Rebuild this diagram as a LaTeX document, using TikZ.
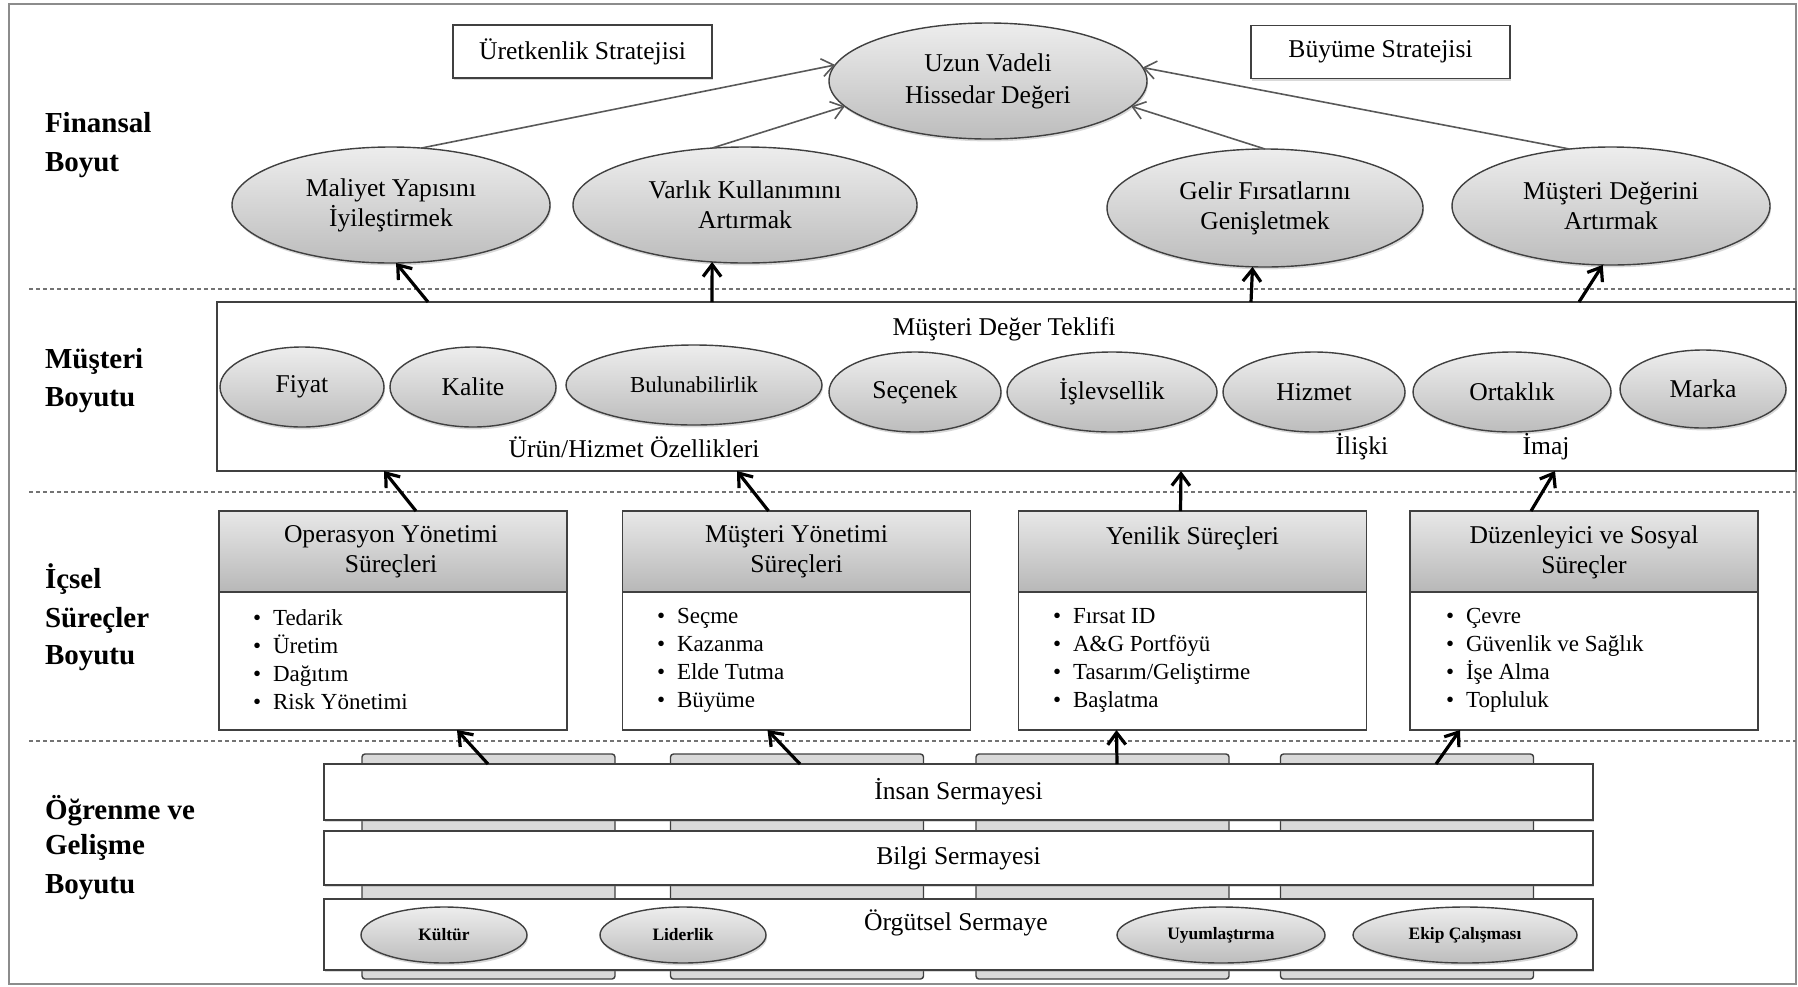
\documentclass[tikz,border=0pt]{standalone}
\usepackage{fontspec}
\setmainfont{Liberation Serif}
\usetikzlibrary{arrows.meta,shapes.geometric,shadows}
\newcommand\kbullet{\textbullet\hspace{6pt}}
\begin{document}
\begin{tikzpicture}[x=0.5pt, y=-0.5pt,
  every node/.style={inner sep=0pt, outer sep=0pt},
  frame/.style={draw=black!45, line width=1pt},
  sepline/.style={draw=black!55, line width=0.6pt, dash pattern=on 2pt off 1.5pt},
  layerlabel/.style={anchor=base west, font=\fontsize{14.5}{18}\selectfont\bfseries},
  plain/.style={font=\fontsize{12.8}{15}\selectfont, align=center},
  shadowed/.style={drop shadow={shadow xshift=0.5pt, shadow yshift=-1.2pt, opacity=0.3}},
  oval/.style={ellipse, draw=black!75, line width=0.7pt, top color=black!7,
    bottom color=black!26, shadowed, font=\fontsize{12.8}{15}\selectfont, align=center},
  smalloval/.style={oval, font=\fontsize{8.7}{10}\selectfont\bfseries,
    minimum height=28pt},
  stratbox/.style={rectangle, draw=black!75, line width=0.7pt, fill=white, shadowed,
    minimum width=129.5pt, minimum height=26.5pt, font=\fontsize{12.8}{15}\selectfont},
  outerbox/.style={rectangle, draw=black!75, line width=0.7pt, fill=white},
  header/.style={rectangle, draw=black!75, line width=0.7pt, top color=black!9,
    bottom color=black!28, minimum width=174pt, minimum height=40.5pt},
  body/.style={rectangle, draw=black!75, line width=0.7pt, fill=white,
    minimum width=174pt, minimum height=69pt},
  listtxt/.style={anchor=west, align=left, font=\fontsize{11.5}{14}\selectfont},
  tab/.style={rectangle, draw=black!75, line width=0.7pt, fill=black!15,
    rounded corners=1.5pt, minimum width=126.5pt, minimum height=112.5pt},
  bar/.style={rectangle, draw=black!75, line width=0.7pt, fill=white, shadowed,
    minimum width=634.5pt, font=\fontsize{12.8}{15}\selectfont},
  thinarrow/.style={draw=black!65, line width=0.8pt,
    -{Straight Barb[length=6pt, width=9pt]}},
  thickarrow/.style={draw=black, line width=1.6pt,
    -{Straight Barb[length=6pt, width=9pt]}}
]
\useasboundingbox (0,0) rectangle (1798,986);

% outer frame and layer separators
\draw[frame] (9,4) rectangle (1796,984);
\foreach \yy in {289,492,741} \draw[sepline] (29,\yy) -- (1796,\yy);

% layer titles
\node[layerlabel] (fin1) at (45,132) {Finansal};
\node[layerlabel] (fin2) at (45,171) {Boyut};
\node[layerlabel] (cus1) at (45,368) {Müşteri};
\node[layerlabel] (cus2) at (45,406) {Boyutu};
\node[layerlabel] (int1) at (45,588) {İçsel};
\node[layerlabel] (int2) at (45,627) {Süreçler};
\node[layerlabel] (int3) at (45,664) {Boyutu};
\node[layerlabel] (lrn1) at (45,819) {Öğrenme ve};
\node[layerlabel] (lrn2) at (45,854) {Gelişme};
\node[layerlabel] (lrn3) at (45,893) {Boyutu};

% financial layer
\node[stratbox] (prod) at (582.5,51.5) {Üretkenlik Stratejisi};
\node[stratbox] (grow) at (1380.5,52) {Büyüme Stratejisi};
\node[oval, minimum width=159pt, minimum height=58pt,
      font=\fontsize{12.8}{16}\selectfont] (uzun) at (988,81) {Uzun Vadeli\\Hissedar Değeri};
\node[oval, minimum width=159pt, minimum height=58pt] (mal) at (391,205) {Maliyet Yapısını\\İyileştirmek};
\node[oval, minimum width=172pt, minimum height=58pt] (var) at (745,205) {Varlık Kullanımını\\Artırmak};
\node[oval, minimum width=158pt, minimum height=59pt] (gel) at (1265,208) {Gelir Fırsatlarını\\Genişletmek};
\node[oval, minimum width=159pt, minimum height=59pt] (mdv) at (1611,206) {Müşteri Değerini\\Artırmak};

% customer layer
\node[outerbox, minimum width=789.5pt, minimum height=84.5pt] (mus) at (1006.5,386.5) {};
\node[plain] (mustitle) at (1004,329) {Müşteri Değer Teklifi};
\node[oval, minimum width=82pt, minimum height=40pt] (fiy) at (302,387) {Fiyat};
\node[oval, minimum width=83pt, minimum height=40pt] (kal) at (473,387) {Kalite};
\node[oval, minimum width=128pt, minimum height=40pt,
      font=\fontsize{11.4}{13}\selectfont] (bul) at (694,385) {Bulunabilirlik};
\node[oval, minimum width=86pt, minimum height=40pt] (sec) at (915,392) {Seçenek};
\node[oval, minimum width=105pt, minimum height=40pt] (isl) at (1112,392) {İşlevsellik};
\node[oval, minimum width=91pt, minimum height=40pt] (hiz) at (1314,392) {Hizmet};
\node[oval, minimum width=99pt, minimum height=40pt] (ort) at (1512,392) {Ortaklık};
\node[oval, minimum width=83pt, minimum height=39pt] (mar) at (1703,389) {Marka};
\node[plain] (urun) at (634,447) {Ürün/Hizmet Özellikleri};
\node[plain] (ilis) at (1362,447) {İlişki};
\node[plain] (imaj) at (1546,447) {İmaj};

% internal process layer
\node[header] (h1) at (393,551.5) {};
\node[header] (h2) at (796.5,551.5) {};
\node[header] (h3) at (1192.5,551.5) {};
\node[header] (h4) at (1584,551.5) {};
\node[body] (b1) at (393,661) {};
\node[body] (b2) at (796.5,661) {};
\node[body] (b3) at (1192.5,661) {};
\node[body] (b4) at (1584,661) {};
\node[plain] (t1) at (391,552) {Operasyon Yönetimi\\Süreçleri};
\node[plain] (t2) at (796.5,552) {Müşteri Yönetimi\\Süreçleri};
\node[plain] (t3) at (1192.5,538) {Yenilik Süreçleri};
\node[plain] (t4) at (1584,552) {Düzenleyici ve Sosyal\\Süreçler};
\node[listtxt] (l1) at (253,660) {\kbullet Tedarik\\\kbullet Üretim\\\kbullet Dağıtım\\\kbullet Risk Yönetimi};
\node[listtxt] (l2) at (657,660) {\kbullet Seçme\\\kbullet Kazanma\\\kbullet Elde Tutma\\\kbullet Büyüme};
\node[listtxt] (l3) at (1053,660) {\kbullet Fırsat ID\\\kbullet A\&G Portföyü\\\kbullet Tasarım/Geliştirme\\\kbullet Başlatma};
\node[listtxt] (l4) at (1446,660) {\kbullet Çevre\\\kbullet Güvenlik ve Sağlık\\\kbullet İşe Alma\\\kbullet Topluluk};

% learning and growth layer: shelf supports behind three capital bars
\node[tab] (tab1) at (488.5,866.5) {};
\node[tab] (tab2) at (797,866.5) {};
\node[tab] (tab3) at (1102.5,866.5) {};
\node[tab] (tab4) at (1407,866.5) {};
\node[bar, minimum height=28pt] (ins) at (958.5,792) {İnsan Sermayesi};
\node[bar, minimum height=27pt] (bil) at (958.5,858) {Bilgi Sermayesi};
\node[bar, minimum height=35.5pt] (org) at (958.5,934.5) {};
\node[plain] (orgtxt) at (956,923) {Örgütsel Sermaye};
\node[smalloval, minimum width=83pt] (kul) at (444,935) {Kültür};
\node[smalloval, minimum width=83pt] (lid) at (683,935) {Liderlik};
\node[smalloval, minimum width=104pt] (uyu) at (1221,935) {Uyumlaştırma};
\node[smalloval, minimum width=112pt] (ekip) at (1465,935) {Ekip Çalışması};

% financial objectives feeding shareholder value
\draw[thinarrow] (mal.62) -- (uzun.174);
\draw[thinarrow] (var.120) -- (uzun.190);
\draw[thinarrow] (gel.north) -- (uzun.-10);
\draw[thinarrow] (mdv.126) -- (uzun.5);

% customer layer to financial layer
\draw[thickarrow] ([xshift=105.5pt]mus.north west) -- (mal.-85);
\draw[thickarrow] ([xshift=247.5pt]mus.north west) -- (var.-120);
\draw[thickarrow] ([xshift=517pt]mus.north west) -- (gel.-102);
\draw[thickarrow] ([xshift=681pt]mus.north west) -- (mdv.-98);

% internal processes to customer layer
\draw[thickarrow] ([xshift=98.5pt]h1.north west) -- ([xshift=83.5pt]mus.south west);
\draw[thickarrow] ([xshift=73pt]h2.north west) -- ([xshift=260pt]mus.south west);
\draw[thickarrow] ([xshift=81pt]h3.north west) -- ([xshift=482pt]mus.south west);
\draw[thickarrow] ([xshift=60.5pt]h4.north west) -- ([xshift=669pt]mus.south west);

% learning and growth to internal processes
\draw[thickarrow] ([xshift=82pt]ins.north west) -- ([xshift=119pt]b1.south west);
\draw[thickarrow] ([xshift=238pt]ins.north west) -- ([xshift=72.5pt]b2.south west);
\draw[thickarrow] ([xshift=396.5pt]ins.north west) -- ([xshift=49pt]b3.south west);
\draw[thickarrow] ([xshift=556pt]ins.north west) -- ([xshift=25pt]b4.south west);
\end{tikzpicture}
\end{document}
